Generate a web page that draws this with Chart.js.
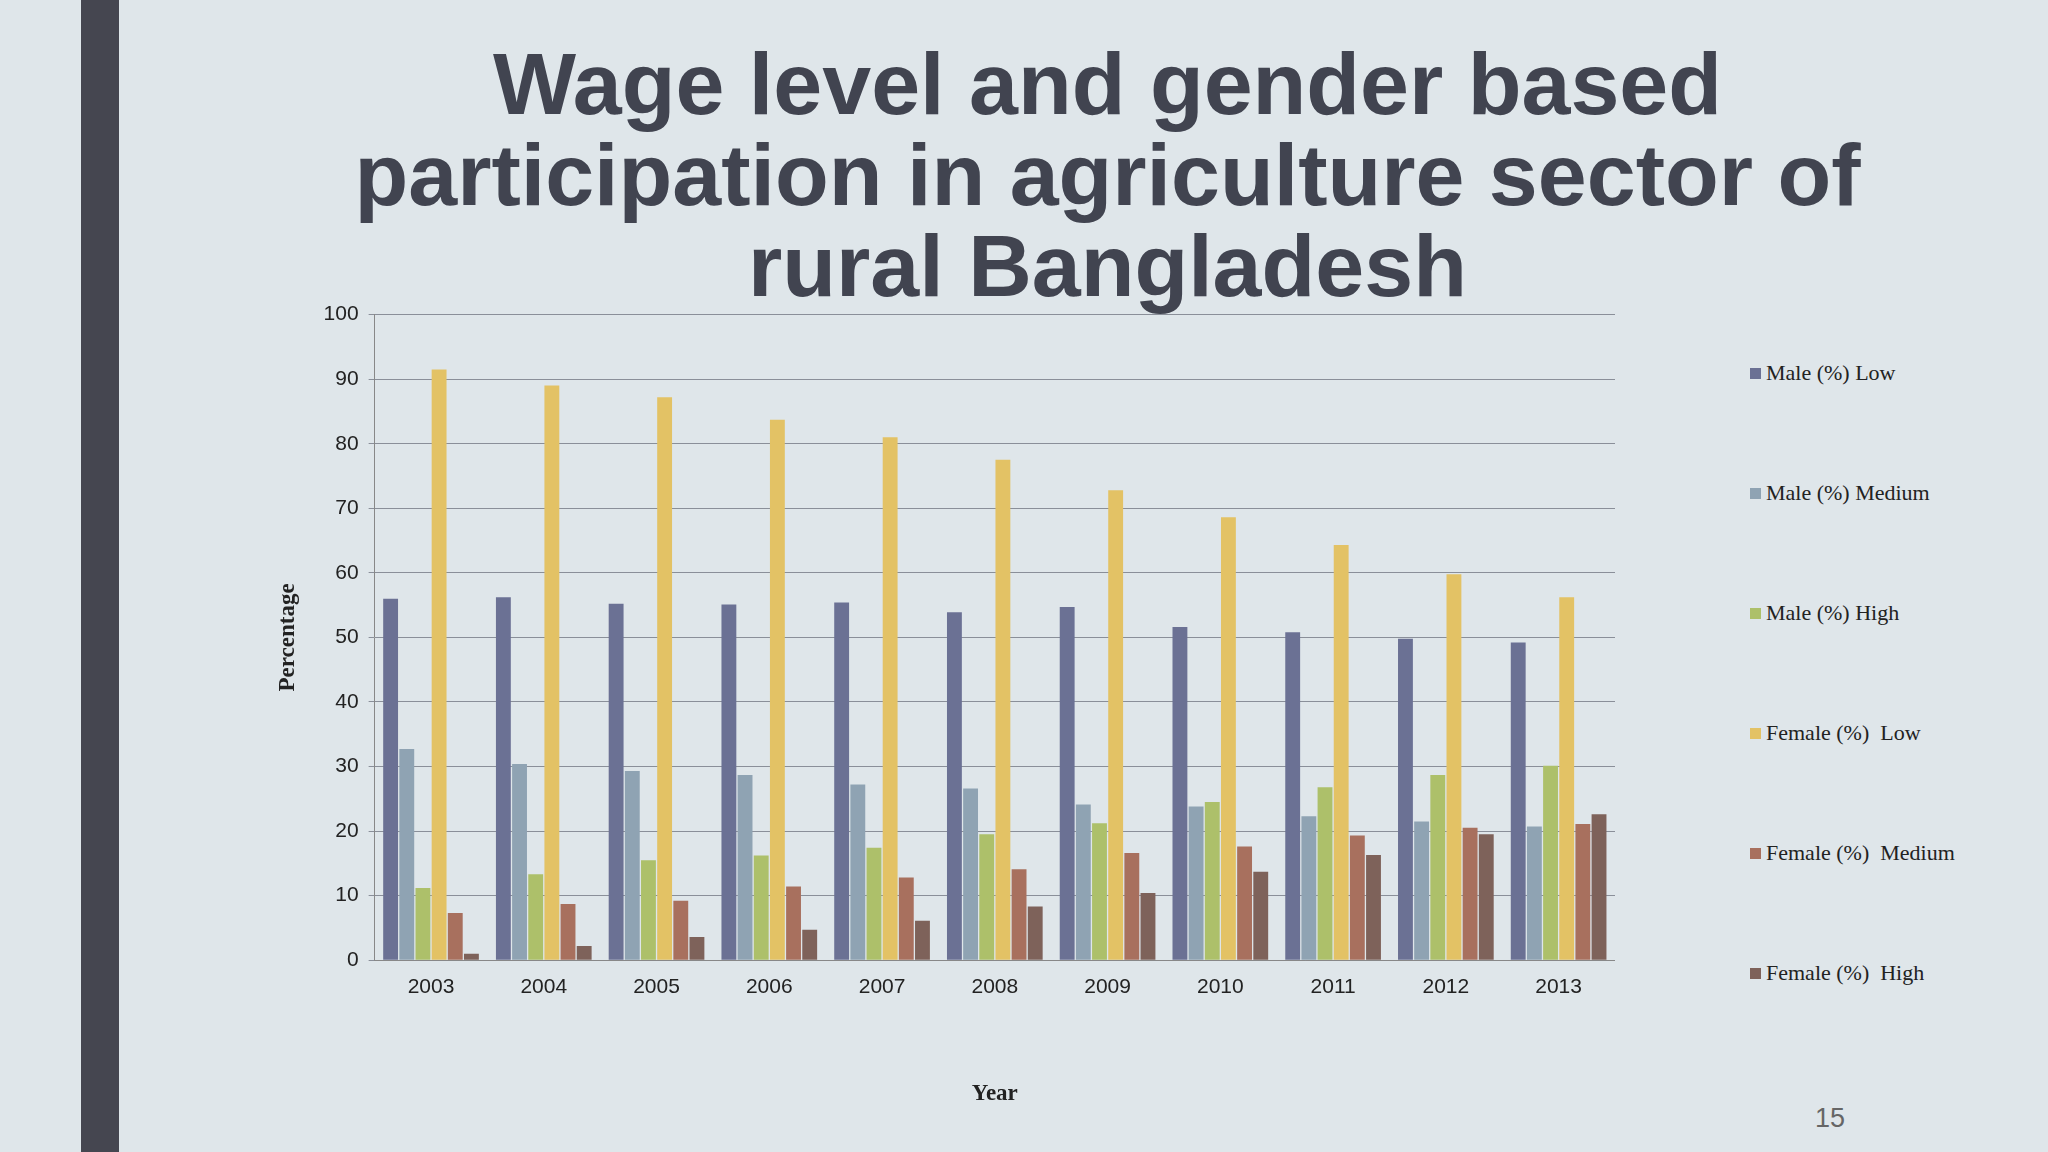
<!DOCTYPE html>
<html>
<head>
<meta charset="utf-8">
<script src="https://cdn.jsdelivr.net/npm/chart.js@4"></script>
<style>
  body { margin: 0; width: 2048px; height: 1152px; background: #dfe6ea; position: relative; overflow: hidden; font-family: "Liberation Sans", Arial, sans-serif; }
  #stripe { position: absolute; left: 81px; top: 0; width: 38px; height: 1152px; background: #454650; }
  #title { position: absolute; left: 340px; width: 1535px; top: 38px; text-align: center; color: #414450; font-weight: bold; font-size: 88px; line-height: 91px; }
  #wrap { position: absolute; left: 270px; top: 292px; width: 1345px; height: 820px; }
  #legend { position: absolute; left: 1750px; top: 360px; font-family: "Liberation Serif", serif; font-size: 22px; color: #222; }
  #legend div { height: 120px; display: flex; align-items: flex-start; }
  #legend span.box { display: inline-block; width: 11px; height: 11px; margin: 8px 5px 0 0; }
  #page { position: absolute; left: 1815px; top: 1103px; font-size: 27px; color: #666; }
</style>
</head>
<body>
<div id="stripe"></div>
<div id="title">Wage level and gender based participation in agriculture sector of rural Bangladesh</div>
<div id="wrap"><canvas id="myChart"></canvas></div>
<div id="legend"></div>
<div id="page">15</div>
<script>
var years = ['2003','2004','2005','2006','2007','2008','2009','2010','2011','2012','2013'];
var seriesNames = ['Male (%) Low', 'Male (%) Medium', 'Male (%) High', 'Female (%)  Low', 'Female (%)  Medium', 'Female (%)  High'];
var maleLow = [56, 56.2, 55.2, 55.1, 55.4, 53.9, 54.7, 51.6, 50.8, 49.8, 49.2];
var maleMedium = [32.7, 30.4, 29.3, 28.7, 27.2, 26.6, 24.1, 23.8, 22.3, 21.5, 20.7];
var maleHigh = [11.2, 13.3, 15.5, 16.2, 17.4, 19.5, 21.2, 24.5, 26.8, 28.7, 30.1];
var femaleLow = [91.5, 89, 87.2, 83.7, 81, 77.5, 72.8, 68.6, 64.3, 59.8, 56.2];
var femaleMedium = [7.3, 8.7, 9.2, 11.4, 12.8, 14.1, 16.6, 17.6, 19.3, 20.5, 21.1];
var femaleHigh = [1, 2.2, 3.6, 4.7, 6.1, 8.3, 10.4, 13.7, 16.3, 19.5, 22.6];
var colors = ['#6b7194', '#8fa3b3', '#adc06a', '#e3c265', '#a8705e', '#7e625a'];

var values = [maleLow, maleMedium, maleHigh, femaleLow, femaleMedium, femaleHigh];
var datasets = values.map(function (v, i) {
    return { label: seriesNames[i], data: v, backgroundColor: colors[i], categoryPercentage: 0.86, barPercentage: 0.92 };
});

var canvas = document.getElementById('myChart');
canvas.width = 1345; canvas.height = 820;
var chart = new Chart(canvas, {
    type: 'bar',
    data: { labels: years, datasets: datasets },
    options: {
        responsive: false, animation: false,
        plugins: { legend: { display: false }, tooltip: { enabled: false } },
        scales: {
            x: {
                grid: { display: false },
                border: { color: '#888' },
                ticks: { color: '#222', font: { family: 'Liberation Sans', size: 21 }, padding: 6 },
                title: { display: true, text: 'Year', color: '#222', font: { family: 'Liberation Serif', size: 23, weight: 'bold' }, padding: { top: 75 } }
            },
            y: {
                min: 0, max: 100,
                ticks: { stepSize: 10, color: '#222', font: { family: 'Liberation Sans', size: 21 }, padding: 10 },
                grid: { color: '#8a8f99', drawTicks: true, tickLength: 6 },
                border: { color: '#888' },
                title: { display: true, text: 'Percentage', color: '#222', font: { family: 'Liberation Serif', size: 23, weight: 'bold' }, padding: { bottom: 12 } }
            }
        }
    }
});

var legend = document.getElementById('legend');
chart.data.datasets.forEach(function (ds) {
    var row = document.createElement('div');
    row.innerHTML = '<span class="box" style="background:' + ds.backgroundColor + '"></span><span>' + ds.label.replace(/ /g, '&nbsp;') + '</span>';
    legend.appendChild(row);
});
</script>
</body>
</html>
